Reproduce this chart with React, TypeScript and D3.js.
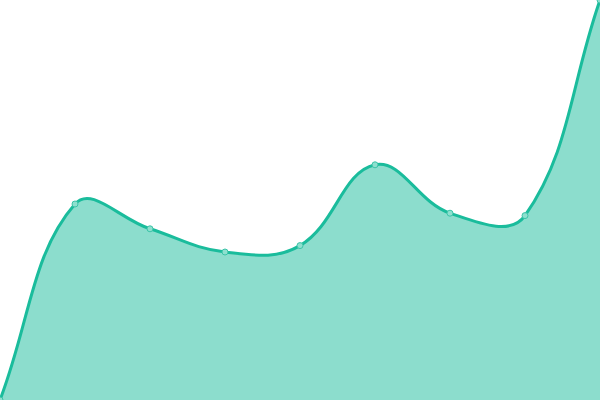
import React from "react";
import * as d3 from "d3";

const labels = ["A", "B", "C", "D", "E", "F", "G", "H", "I"];
const values = [0, 49, 42.8, 37, 38.6, 58.8, 46.7, 46.1, 100];

const W = 600;
const H = 400;
const TENSION = 0.4;

type P = [number, number];

function splinePath(pts: P[], close: boolean): string {
  const n = pts.length;
  const cps: { c1: P; c2: P }[] = pts.map((p1, i) => {
    const p0 = pts[i - 1] ?? p1;
    const p2 = pts[i + 1] ?? p1;
    const d01 = Math.hypot(p1[0] - p0[0], p1[1] - p0[1]);
    const d12 = Math.hypot(p2[0] - p1[0], p2[1] - p1[1]);
    const sum = d01 + d12 || 1;
    const fa = (TENSION * d01) / sum;
    const fb = (TENSION * d12) / sum;
    const clampX = (v: number) => Math.max(0, Math.min(W, v));
    const clampY = (v: number) => Math.max(0, Math.min(H, v));
    return {
      c1: [clampX(p1[0] - fa * (p2[0] - p0[0])), clampY(p1[1] - fa * (p2[1] - p0[1]))],
      c2: [clampX(p1[0] + fb * (p2[0] - p0[0])), clampY(p1[1] + fb * (p2[1] - p0[1]))],
    };
  });
  const path = d3.path();
  path.moveTo(pts[0][0], pts[0][1]);
  for (let i = 1; i < n; i++) {
    const a = cps[i - 1].c2;
    const b = cps[i].c1;
    path.bezierCurveTo(a[0], a[1], b[0], b[1], pts[i][0], pts[i][1]);
  }
  if (close) {
    path.lineTo(pts[n - 1][0], H);
    path.lineTo(pts[0][0], H);
    path.closePath();
  }
  return path.toString();
}

export default function App() {
  const x = d3.scalePoint<string>().domain(labels).range([0, W]);
  const y = d3.scaleLinear().domain([0, 100]).range([H, 0]);
  const pts: P[] = values.map((v, i) => [x(labels[i]) as number, y(v)]);
  return (
    <svg
      width={W}
      height={H}
      style={{ position: "absolute", left: 0, top: 0, background: "#fff" }}
    >
      <path d={splinePath(pts, true)} fill="#1abc9c" fillOpacity={0.5} />
      <path d={splinePath(pts, false)} fill="none" stroke="#1abc9c" strokeWidth={3} />
      {pts.map((p, i) => (
        <circle
          key={i}
          cx={p[0]}
          cy={p[1]}
          r={3}
          fill="#8ee0cf"
          stroke="#3cc4a8"
          strokeWidth={1}
        />
      ))}
    </svg>
  );
}
